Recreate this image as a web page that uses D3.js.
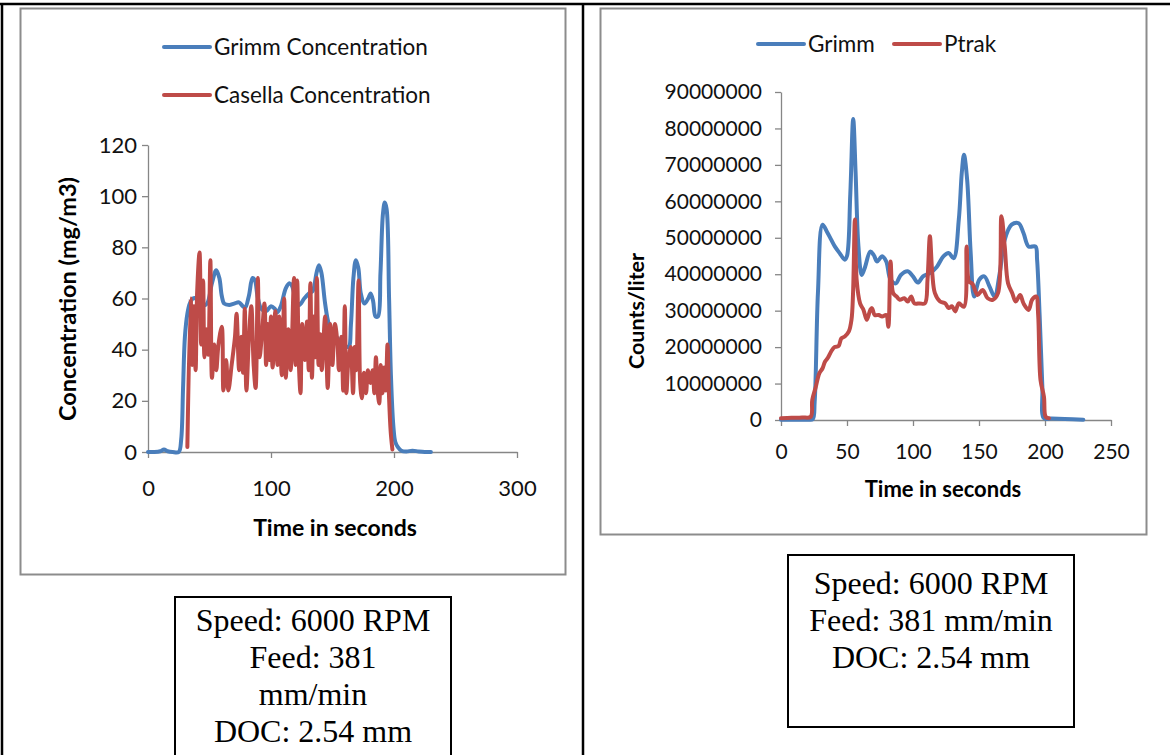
<!DOCTYPE html>
<html>
<head>
<meta charset="utf-8">
<script src="https://cdn.jsdelivr.net/npm/d3@7"></script>
<style>
  html, body { margin: 0; padding: 0; background: #fff; }
  svg { display: block; }
</style>
</head>
<body>
<svg id="page" width="1170" height="755"></svg>
<script>
// ---- Left panel: mass concentration (mg/m3) ----
const grimmConcT = [0, 5, 10, 13, 16, 20, 25, 27, 28.5, 30, 32, 34, 36.5, 39, 41, 44, 48, 52, 55.5, 58, 60, 62, 66, 70, 74, 77, 79, 82, 85, 87, 89, 92, 96, 100, 103, 105, 108, 112, 115, 117, 120, 123, 127, 131, 134, 137, 139, 141, 144, 147, 151, 155, 159, 163, 165, 167, 169, 171, 173, 176, 179, 181, 183, 185, 187, 189, 191, 192.5, 194, 196, 197.5, 199.5, 201, 203, 206, 210, 215, 220, 225, 230];
const grimmConcV = [0, 0, 0.3, 1, 0.3, 0, 0, 5, 25, 45, 54, 58, 60, 60, 57, 57, 58, 66, 71, 68, 61, 58, 57.5, 58, 58.5, 57, 56.5, 61, 68, 67, 61, 56, 55, 57, 56, 54.5, 57, 64, 66, 65, 60, 57.5, 60, 62, 63, 70, 73, 70, 58, 50, 46, 44, 42, 41, 50, 68, 75, 72, 62, 58, 60, 62, 59, 53, 53, 70, 93, 97.5, 95, 60, 30, 10, 4, 2, 0.5, 0.2, 0.5, 0.2, 0, 0];

const casellaT = [32, 34.7, 36, 37.3, 38.7, 40, 41.9, 43.2, 44.8, 45.9, 47.5, 49, 50.7, 52, 53.9, 55.5, 57.3, 60, 61.3, 63.5, 65.3, 68, 70.7, 72, 74.1, 76, 77.3, 78.7, 80, 82.1, 84, 85.9, 87.5, 89.3, 90.7, 92.5, 94.7, 96, 97.3, 98.7, 100, 101.3, 103.5, 105.3, 106.7, 108.8, 110.7, 112, 114.1, 116, 118.7, 120, 121.3, 122.7, 124, 125.3, 127.5, 129.3, 130.7, 132, 133.3, 134.7, 136, 137.3, 138.7, 140, 141.3, 144, 146.1, 148, 149.9, 152, 154.1, 155.2, 157.3, 158.7, 160, 161.3, 162.7, 164.8, 166.7, 168, 169.3, 171.2, 172.5, 173.9, 175.5, 177.3, 178.7, 180.8, 182.7, 184, 185.3, 186.7, 188, 189.3, 190.7, 192, 193.3, 194.7, 196, 197.3, 198.7];
const casellaV = [2, 60, 34, 57, 32, 63, 78, 42, 67, 37, 48, 38, 75, 29, 42, 32, 42, 49, 24, 36, 24, 34, 45, 54, 32, 45, 31, 56, 24, 45, 57, 34, 25, 68, 37, 45, 58, 34, 50, 36, 53, 33, 55, 34, 53, 30, 60, 29, 48, 32, 68, 34, 67, 34, 23, 50, 36, 51, 32, 66, 29, 53, 37, 68, 34, 46, 32, 53, 25, 50, 34, 50, 42, 32, 45, 24, 57, 23, 34, 41, 23, 41, 32, 67, 27, 21, 31, 23, 32, 27, 32, 23, 37, 24, 19, 34, 23, 33, 24, 42, 21, 8, 1];

const concXTicks = [0, 100, 200, 300];
const concYTicks = [0, 20, 40, 60, 80, 100, 120];

// ---- Right panel: particle counts (counts/liter) ----
const grimmCountT = [0, 10, 20, 24, 25.5, 28, 31.5, 35, 38, 41, 44.4, 48.3, 50, 52.5, 54.7, 56.5, 58.6, 61.2, 63.7, 67.6, 70.2, 72.8, 76.6, 79.7, 83, 87, 90.8, 96, 100, 103.7, 107.6, 112.8, 118, 123, 127, 130.8, 134.7, 137, 138.6, 141, 143.7, 146.3, 150.2, 154, 158, 161.8, 165.7, 169.5, 174.7, 180, 183.7, 187.6, 192.8, 194, 195.9, 198, 199.2, 205, 215, 229];
const grimmCountV = [0.1e6, 0.1e6, 0.1e6, 0.2e6, 5e6, 35e6, 53.6e6, 51.5e6, 49.5e6, 47.5e6, 45.8e6, 44e6, 45e6, 62e6, 82.6e6, 68e6, 48e6, 39.8e6, 42e6, 46.2e6, 45.3e6, 43.5e6, 44.9e6, 43.5e6, 38.5e6, 37.5e6, 39.8e6, 40.8e6, 39.4e6, 37.7e6, 39.4e6, 40.3e6, 42e6, 44.9e6, 45.8e6, 44.4e6, 55e6, 68e6, 72.8e6, 66e6, 45.8e6, 33.9e6, 38.5e6, 39.4e6, 36.6e6, 33.9e6, 40.3e6, 49.5e6, 53.6e6, 54e6, 51.3e6, 47.6e6, 47.6e6, 44e6, 29e6, 9e6, 0.5e6, 0.4e6, 0.3e6, 0.1e6];

const ptrakT = [0, 8, 16, 22.5, 23.7, 26.3, 29, 31.5, 33.3, 35.4, 38, 40.5, 43.6, 45.7, 48.3, 51.4, 53.4, 54.6, 56, 57.3, 59.9, 62.5, 65, 67.6, 68.9, 71, 74, 76.6, 79.7, 81.3, 83, 85, 87.5, 90, 93.4, 96, 98.6, 101, 105, 109, 111, 112.8, 114.6, 116.6, 120.5, 124.4, 127, 129.5, 132, 134.7, 138.6, 140.6, 142.5, 145, 148.9, 152.8, 156.6, 160.5, 164.4, 167, 169.5, 172, 175.2, 177.8, 181.2, 183.7, 187.6, 190.2, 193.3, 194.8, 196.6, 199.2, 200.5, 203];
const ptrakV = [0.5e6, 0.6e6, 0.7e6, 0.9e6, 5.5e6, 9e6, 12.8e6, 14.2e6, 16e6, 17e6, 18.8e6, 20e6, 20.3e6, 22.4e6, 22.9e6, 24.3e6, 27.5e6, 35e6, 55e6, 38.5e6, 32e6, 30.2e6, 27.5e6, 30.2e6, 30.7e6, 28.8e6, 28.8e6, 28.4e6, 28.8e6, 25.6e6, 43.5e6, 34.8e6, 33.9e6, 33e6, 33.4e6, 32.5e6, 33.9e6, 32e6, 32e6, 32e6, 38.5e6, 50.4e6, 40.3e6, 34.8e6, 32.5e6, 32e6, 30.7e6, 31.2e6, 29.8e6, 32e6, 31.1e6, 47.6e6, 38e6, 37.4e6, 34.3e6, 35.7e6, 33.4e6, 33e6, 34.8e6, 55.9e6, 47.6e6, 37.5e6, 34.8e6, 32.5e6, 34.3e6, 32e6, 30.2e6, 33e6, 33.9e6, 29e6, 11e6, 6.4e6, 0.9e6, 0.5e6];

const countXTicks = [0, 50, 100, 150, 200, 250];
const countYTicks = [0, 10e6, 20e6, 30e6, 40e6, 50e6, 60e6, 70e6, 80e6, 90e6];

const BLUE = "#4A7EBB";
const RED = "#BE4B48";
const AXIS = "#868686";
const SANS = "Lato, 'Open Sans', sans-serif";
const SERIF = "'Liberation Serif', 'DejaVu Serif', serif";

const svg = d3.select("#page");

// Table rules around the two cells
const rules = svg.append("g").attr("stroke", "#000").attr("stroke-width", 2.5);
rules.append("line").attr("x1", 0).attr("x2", 1170).attr("y1", 4).attr("y2", 4);
rules.append("line").attr("x1", 2).attr("x2", 2).attr("y1", 3).attr("y2", 755);
rules.append("line").attr("x1", 583).attr("x2", 583).attr("y1", 3).attr("y2", 755);

// Chart area frames
svg.append("rect").attr("x", 20.5).attr("y", 8.5).attr("width", 545).attr("height", 566)
  .attr("fill", "none").attr("stroke", "#8c8c8c").attr("stroke-width", 2);
svg.append("rect").attr("x", 600.5).attr("y", 8.5).attr("width", 546).attr("height", 526)
  .attr("fill", "none").attr("stroke", "#8c8c8c").attr("stroke-width", 2);

function zip(ts, vs) { return ts.map((t, i) => [t, vs[i]]); }

function drawAxes(g, x, y, xTicks, yTicks, opt) {
  const xa = g.append("g").attr("transform", `translate(0,${y.range()[0]})`)
    .call(d3.axisBottom(x).tickValues(xTicks).tickSize(6).tickSizeOuter(0)
      .tickPadding(opt.xPad).tickFormat(d3.format("d")));
  const ya = g.append("g").attr("transform", `translate(${x.range()[0]},0)`)
    .call(d3.axisLeft(y).tickValues(yTicks).tickSize(6).tickSizeOuter(0)
      .tickPadding(opt.yPad).tickFormat(d3.format("d")));
  [xa, ya].forEach(a => {
    a.select(".domain").attr("stroke", AXIS).attr("stroke-width", 1.3);
    a.selectAll(".tick line").attr("stroke", AXIS).attr("stroke-width", 1.3);
    a.selectAll(".tick text").attr("font-size", opt.size).attr("font-family", SANS).attr("fill", "#111");
  });
}

function drawSeries(g, x, y, data, color) {
  const line = d3.line().x(d => x(d[0])).y(d => y(d[1])).curve(d3.curveCatmullRom.alpha(0.5));
  g.append("path").datum(data).attr("d", line)
    .attr("fill", "none").attr("stroke", color).attr("stroke-width", 4)
    .attr("stroke-linejoin", "round").attr("stroke-linecap", "round");
}

function legendItem(g, x0, yC, color, label, size) {
  g.append("line").attr("x1", x0).attr("x2", x0 + 46).attr("y1", yC).attr("y2", yC)
    .attr("stroke", color).attr("stroke-width", 4).attr("stroke-linecap", "round");
  g.append("text").attr("x", x0 + 50).attr("y", yC).attr("dy", "0.35em")
    .attr("font-family", SANS).attr("font-size", size).attr("fill", "#111").text(label);
}

function title(g, x0, y0, rot, size, label) {
  g.append("text").attr("transform", `translate(${x0},${y0}) rotate(${rot})`).attr("dy", "0.35em")
    .attr("text-anchor", "middle").attr("font-family", SANS).attr("font-weight", "bold")
    .attr("font-size", size).attr("fill", "#000").text(label);
}

// ---------- Left chart ----------
{
  const g = svg.append("g");
  const x = d3.scaleLinear().domain([0, 300]).range([148, 517]);
  const y = d3.scaleLinear().domain([0, 120]).range([452, 145]);
  drawAxes(g, x, y, concXTicks, concYTicks, { xPad: 22, yPad: 5, size: 22 });
  drawSeries(g, x, y, zip(grimmConcT, grimmConcV), BLUE);
  drawSeries(g, x, y, zip(casellaT, casellaV), RED);

  legendItem(g, 164, 47, BLUE, "Grimm Concentration", 22.5);
  legendItem(g, 164, 95, RED, "Casella Concentration", 22.5);

  title(g, 335, 528, 0, 23, "Time in seconds");
  title(g, 68, 299, -90, 23.5, "Concentration (mg/m3)");
}

// ---------- Right chart ----------
{
  const g = svg.append("g");
  const x = d3.scaleLinear().domain([0, 250]).range([781, 1111]);
  const y = d3.scaleLinear().domain([0, 90e6]).range([420, 92]);
  drawAxes(g, x, y, countXTicks, countYTicks, { xPad: 18, yPad: 13, size: 21 });
  drawSeries(g, x, y, zip(grimmCountT, grimmCountV), BLUE);
  drawSeries(g, x, y, zip(ptrakT, ptrakV), RED);

  legendItem(g, 758, 44, BLUE, "Grimm", 22.5);
  legendItem(g, 894, 44, RED, "Ptrak", 22.5);

  title(g, 943, 489, 0, 22, "Time in seconds");
  title(g, 636, 311, -90, 21.5, "Counts/liter");
}

// ---------- Cutting condition boxes ----------
function condBox(x0, y0, w, h, lines, lineY0) {
  const g = svg.append("g");
  g.append("rect").attr("x", x0).attr("y", y0).attr("width", w).attr("height", h)
    .attr("fill", "#fff").attr("stroke", "#000").attr("stroke-width", 2);
  lines.forEach((t, i) => {
    g.append("text").attr("x", x0 + w / 2).attr("y", lineY0 + i * 37).attr("dy", "0.35em")
      .attr("text-anchor", "middle").attr("font-family", SERIF).attr("font-size", 32)
      .attr("fill", "#000").text(t);
  });
}
condBox(175, 597, 276, 170, ["Speed: 6000 RPM", "Feed: 381", "mm/min", "DOC: 2.54 mm"], 620);
condBox(788, 555, 286, 172, ["Speed: 6000 RPM", "Feed: 381 mm/min", "DOC: 2.54 mm"], 583);
</script>
</body>
</html>
